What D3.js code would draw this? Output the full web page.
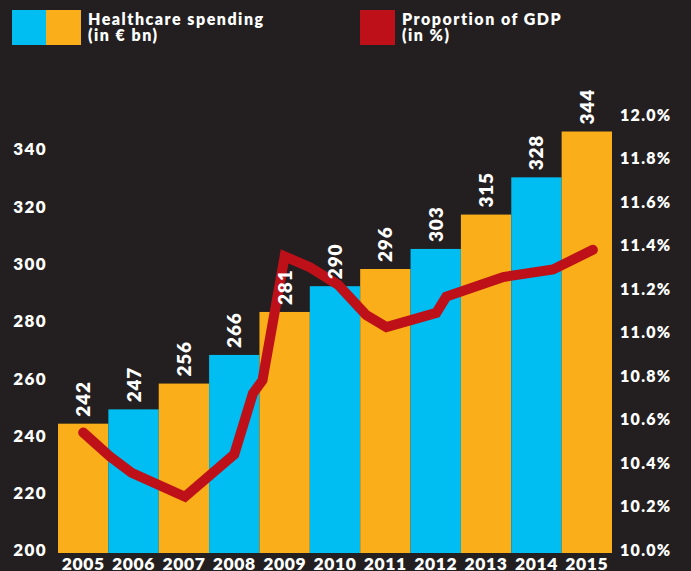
<!DOCTYPE html>
<html>
<head>
<meta charset="utf-8">
<script src="https://cdn.jsdelivr.net/npm/d3@7"></script>
<style>
  html, body { margin: 0; padding: 0; background: #231f20; }
  svg { display: block; }
  text { font-family: Lato, "Open Sans", sans-serif; font-weight: 800; fill: #ffffff; }
</style>
</head>
<body>
<svg id="chart" width="691" height="571"></svg>
<script>
// Healthcare spending per year (EUR bn)
const years = ["2005","2006","2007","2008","2009","2010","2011","2012","2013","2014","2015"];
const spending = [242, 247, 256, 266, 281, 290, 296, 303, 315, 328, 344];

// Share of GDP (%), sampled along the year axis
const gdpTime = [2005.0, 2005.53, 2005.96, 2007.02, 2008.0, 2008.37, 2008.56, 2009.0, 2009.5, 2010.06, 2010.62, 2011.02, 2012.01, 2012.21, 2013.34, 2014.33, 2015.12];
const gdpShare = [10.54, 10.43, 10.355, 10.245, 10.44, 10.72, 10.78, 11.35, 11.30, 11.22, 11.08, 11.025, 11.09, 11.165, 11.255, 11.29, 11.38];

// Axis ticks
const leftTicks = [200, 220, 240, 260, 280, 300, 320, 340];
const rightTicks = [10.0, 10.2, 10.4, 10.6, 10.8, 11.0, 11.2, 11.4, 11.6, 11.8, 12.0];

const COLORS = { cyan: "#00bdf2", orange: "#faae1a", red: "#be1018" };

const svg = d3.select("#chart");
const plotBottom = 553;

const x = d3.scaleBand().domain(years).range([58, 612]).padding(0);
const y = d3.scaleLinear().domain([200, 344]).range([544, 131.5]);
const yPct = d3.scaleLinear().domain([10, 12]).range([550, 115]);
const xTime = d3.scaleLinear()
  .domain([2005, 2015])
  .range([x("2005") + x.bandwidth() / 2, x("2015") + x.bandwidth() / 2]);

// Bars, alternating orange / cyan
svg.append("g").selectAll("rect")
  .data(spending)
  .join("rect")
  .attr("x", (d, i) => x(years[i]))
  .attr("y", d => y(d))
  .attr("width", x.bandwidth())
  .attr("height", d => plotBottom - y(d))
  .attr("fill", (d, i) => i % 2 === 0 ? COLORS.orange : COLORS.cyan);

// GDP share line
const line = d3.line()
  .x((d, i) => xTime(gdpTime[i]))
  .y(d => yPct(d));

svg.append("path")
  .datum(gdpShare)
  .attr("d", line)
  .attr("fill", "none")
  .attr("stroke", COLORS.red)
  .attr("stroke-width", 10)
  .attr("stroke-linecap", "round")
  .attr("stroke-linejoin", "miter");

// Value labels, rotated above each bar (drawn on top of the line)
svg.append("g").selectAll("text")
  .data(spending)
  .join("text")
  .attr("transform", (d, i) => `translate(${x(years[i]) + x.bandwidth() / 2 + 7},${y(d) - 7}) rotate(-90)`)
  .attr("text-anchor", "start")
  .attr("letter-spacing", "0.8px")
  .style("font-size", "19px")
  .text(d => d);

// Left axis (spending)
const leftAxis = svg.append("g")
  .attr("transform", "translate(47,0)")
  .call(d3.axisLeft(y).tickValues(leftTicks).tickSize(0).tickPadding(0));
leftAxis.select(".domain").remove();
leftAxis.selectAll("text")
  .attr("dy", "0.32em")
  .attr("y", 6.5)
  .style("font-size", "17px")
  .style("fill", "#ffffff")
  .attr("letter-spacing", "1.4px");

// Right axis (share of GDP)
const rightAxis = svg.append("g")
  .attr("transform", "translate(620,0)")
  .call(d3.axisRight(yPct).tickValues(rightTicks).tickSize(0).tickPadding(0)
    .tickFormat(d => d3.format(".1f")(d) + "%"));
rightAxis.select(".domain").remove();
rightAxis.selectAll("text")
  .attr("dy", "0.32em")
  .style("font-size", "16px")
  .style("fill", "#ffffff")
  .attr("letter-spacing", "1.3px");

// Year labels
const bottomAxis = svg.append("g")
  .attr("transform", `translate(0,${plotBottom})`)
  .call(d3.axisBottom(x).tickSize(0).tickPadding(0));
bottomAxis.select(".domain").remove();
bottomAxis.selectAll("text")
  .attr("y", 17)
  .attr("dy", 0)
  .style("font-size", "17.5px")
  .style("fill", "#ffffff")
  .attr("letter-spacing", "0.6px");

// Legend
const legend = svg.append("g");
legend.append("rect").attr("x", 12).attr("y", 10).attr("width", 34).attr("height", 35).attr("fill", COLORS.cyan);
legend.append("rect").attr("x", 46).attr("y", 10).attr("width", 35).attr("height", 35).attr("fill", COLORS.orange);
legend.append("rect").attr("x", 360).attr("y", 10).attr("width", 35).attr("height", 35).attr("fill", COLORS.red);

const legendText = [
  { x: 88, lines: ["Healthcare spending", "(in € bn)"] },
  { x: 402, lines: ["Proportion of GDP", "(in %)"] }
];
legendText.forEach(item => {
  item.lines.forEach((s, i) => {
    legend.append("text")
      .attr("x", item.x)
      .attr("y", 25 + i * 15.7)
      .attr("letter-spacing", "1.5px")
      .style("font-size", "16px")
      .text(s);
  });
});
</script>
</body>
</html>
